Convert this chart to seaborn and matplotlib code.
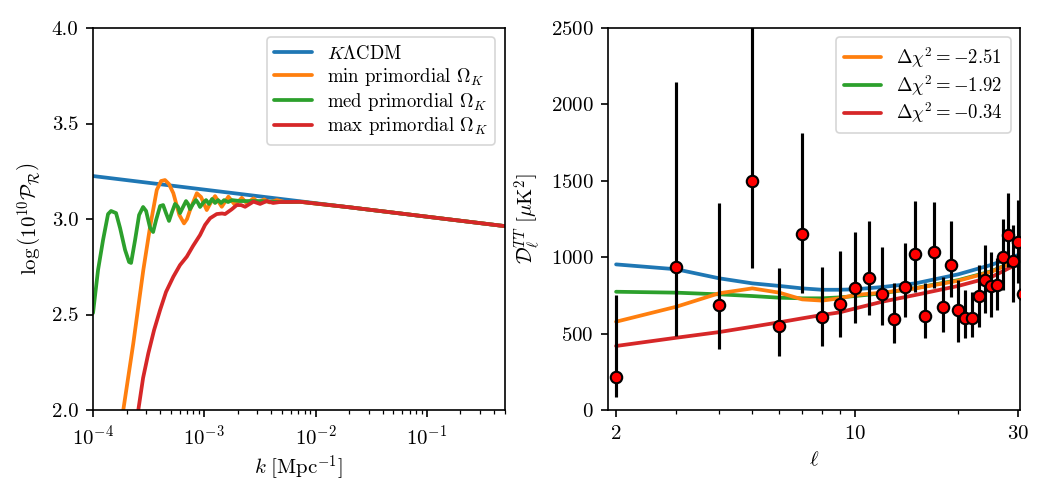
import numpy as np
import pandas as pd
import matplotlib
matplotlib.use('Agg')
import matplotlib.pyplot as plt
import matplotlib.ticker as mticker
import seaborn as sns

# ---- left panel: primordial spectrum, log10(k) -> log(10^10 P_R)
logk_lcdm = [-4.0, -3.0, -2.0, -1.0, -0.301]
lnp_lcdm = [3.225, 3.154, 3.083, 3.012, 2.963]

logk_min = [-3.781, -3.728, -3.638, -3.548, -3.487, -3.427, -3.388, -3.353, -3.317, -3.278,
            -3.254, -3.224, -3.182, -3.155, -3.128, -3.067, -3.029, -2.978, -2.939, -2.903,
            -2.843, -2.783, -2.723, -2.663, -2.618, -2.558, -2.513, -2.462, -2.415, -2.348,
            -2.273, -2.138, -1.689, -0.301]
lnp_min = [1.790, 2.000, 2.349, 2.733, 2.960, 3.152, 3.199, 3.204, 3.183, 3.135,
           3.084, 3.021, 2.977, 3.000, 3.047, 3.135, 3.115, 3.047, 3.089, 3.120,
           3.064, 3.117, 3.073, 3.111, 3.082, 3.108, 3.086, 3.103, 3.087, 3.099,
           3.089, 3.090, 3.061, 2.963]

logk_med = [-4.000, -3.955, -3.910, -3.865, -3.838, -3.793, -3.757, -3.712, -3.676, -3.658,
            -3.622, -3.586, -3.550, -3.523, -3.487, -3.460, -3.433, -3.397, -3.370, -3.344,
            -3.317, -3.290, -3.263, -3.236, -3.218, -3.191, -3.164, -3.146, -3.128, -3.101,
            -3.074, -3.056, -3.038, -3.011, -2.984, -2.957, -2.930, -2.903, -2.876, -2.849,
            -2.822, -2.786, -2.750, -2.678, -2.498, -2.318, -2.138, -1.689, -0.301]
lnp_med = [2.508, 2.733, 2.890, 3.026, 3.042, 3.031, 2.953, 2.838, 2.775, 2.770,
           2.890, 3.021, 3.063, 3.042, 2.953, 2.932, 2.995, 3.068, 3.073, 3.031,
           2.990, 3.037, 3.079, 3.063, 3.031, 3.063, 3.094, 3.079, 3.052, 3.079,
           3.099, 3.084, 3.063, 3.084, 3.099, 3.079, 3.105, 3.084, 3.099, 3.084,
           3.099, 3.089, 3.099, 3.094, 3.094, 3.089, 3.090, 3.061, 2.963]

logk_max = [-3.640, -3.593, -3.550, -3.503, -3.451, -3.397, -3.344, -3.278, -3.218, -3.157,
            -3.101, -3.038, -2.993, -2.948, -2.888, -2.840, -2.813, -2.753, -2.708, -2.669,
            -2.633, -2.558, -2.498, -2.438, -2.381, -2.318, -2.138, -1.689, -0.301]
lnp_max = [1.843, 2.000, 2.168, 2.297, 2.419, 2.524, 2.618, 2.698, 2.759, 2.803,
           2.859, 2.916, 2.969, 3.004, 3.026, 3.029, 3.026, 3.051, 3.073, 3.073,
           3.064, 3.091, 3.079, 3.094, 3.084, 3.089, 3.090, 3.061, 2.963]

# ---- right panel: low-ell TT spectrum
ell_th = [2, 3, 4, 5, 6, 7, 8, 9, 10, 12, 15, 20, 25, 30]
dl_lcdm = [953, 921, 862, 829, 812, 796, 787, 787, 790, 805, 829, 888, 950, 1015]
dl_min = [578, 676, 764, 796, 768, 724, 716, 731, 753, 768, 796, 846, 905, 982]
dl_med = [774, 768, 757, 746, 735, 731, 731, 737, 746, 764, 798, 850, 908, 985]
dl_max = [419, 473, 510, 545, 574, 600, 622, 639, 665, 709, 753, 812, 870, 960]

ell_obs = list(range(2, 32))
dl_obs = [218, 934, 687, 1499, 552, 1150, 611, 694, 800, 866, 761, 596, 805, 1019, 617,
          1032, 672, 949, 654, 600, 602, 744, 851, 811, 818, 999, 1145, 975, 1099, 760]
dl_hi = [753, 2145, 1353, 2900, 927, 1815, 934, 1043, 1167, 1237, 1069, 829, 1095, 1370, 829,
         1363, 868, 1239, 851, 785, 774, 949, 1080, 1036, 993, 1248, 1422, 1211, 1374, 960]
dl_lo = [87, 484, 397, 927, 353, 768, 419, 480, 567, 622, 556, 436, 607, 774, 469,
         796, 513, 741, 447, 469, 480, 545, 633, 611, 654, 785, 938, 709, 829, 570]

labels_left = [r'$K\Lambda\mathrm{CDM}$', r'min primordial $\Omega_K$',
               r'med primordial $\Omega_K$', r'max primordial $\Omega_K$']
labels_right = [r'$\Delta\chi^2=-2.51$', r'$\Delta\chi^2=-1.92$', r'$\Delta\chi^2=-0.34$']
colors = ['#1f77b4', '#ff7f0e', '#2ca02c', '#d62728']

sns.set_theme(style='ticks', context='paper')
plt.rcParams.update({
    'font.family': 'serif',
    'font.serif': ['cmr10'],
    'mathtext.fontset': 'cm',
    'axes.formatter.use_mathtext': True,
    'axes.unicode_minus': False,
    'font.size': 10,
    'axes.labelsize': 10,
    'xtick.labelsize': 10,
    'ytick.labelsize': 10,
    'legend.fontsize': 9,
    'legend.labelspacing': 0.15,
    'axes.edgecolor': 'black',
    'axes.linewidth': 0.8,
    'xtick.color': 'black',
    'ytick.color': 'black',
    'text.color': 'black',
    'axes.labelcolor': 'black',
    'xtick.major.width': 0.8,
    'ytick.major.width': 0.8,
    'xtick.minor.width': 0.6,
    'ytick.minor.width': 0.6,
    'xtick.major.size': 3.5,
    'ytick.major.size': 3.5,
    'xtick.minor.size': 2,
    'ytick.minor.size': 2,
})

LW = 1.8

fig, (ax1, ax2) = plt.subplots(1, 2, figsize=(7, 3.3), dpi=150)
fig.subplots_adjust(left=0.0886, right=0.9714, bottom=0.1717, top=0.9434, wspace=0.2526)

# left panel
left_series = [(logk_lcdm, lnp_lcdm), (logk_min, lnp_min), (logk_med, lnp_med), (logk_max, lnp_max)]
for (lk, val), c, lab in zip(left_series, colors, labels_left):
    df = pd.DataFrame({'k': 10 ** np.array(lk), 'v': val})
    sns.lineplot(data=df, x='k', y='v', ax=ax1, color=c, lw=LW, label=lab, sort=False)
ax1.set_xscale('log')
ax1.set_xlim(1e-4, 0.5)
ax1.set_ylim(2.0, 4.0)
ax1.set_yticks([2.0, 2.5, 3.0, 3.5, 4.0])
ax1.yaxis.set_major_formatter(mticker.FormatStrFormatter('%.1f'))
ax1.set_xlabel(r'$k\ [\mathrm{Mpc}^{-1}]$', labelpad=2)
ax1.set_ylabel(r'$\log\left(10^{10}\mathcal{P}_\mathcal{R}\right)$')
ax1.legend(loc='upper right')

# right panel
df_th = pd.DataFrame({'ell': ell_th, 'lcdm': dl_lcdm, 'min': dl_min, 'med': dl_med, 'max': dl_max})
sns.lineplot(data=df_th, x='ell', y='lcdm', ax=ax2, color=colors[0], lw=LW)
sns.lineplot(data=df_th, x='ell', y='med', ax=ax2, color=colors[2], lw=LW)
sns.lineplot(data=df_th, x='ell', y='min', ax=ax2, color=colors[1], lw=LW)
sns.lineplot(data=df_th, x='ell', y='max', ax=ax2, color=colors[3], lw=LW)
obs = np.array(dl_obs)
yerr = [obs - np.array(dl_lo), np.array(dl_hi) - obs]
ax2.errorbar(ell_obs, obs, yerr=yerr, fmt='o', color='black', ecolor='black', elinewidth=1.5,
             mfc='red', mec='black', mew=1, ms=5.5, zorder=5)
ax2.set_xscale('log')
ax2.set_xlim(1.9, 30.3)
ax2.set_ylim(0, 2500)
ax2.set_xticks([2, 10, 30])
ax2.xaxis.set_major_formatter(mticker.ScalarFormatter())
ax2.xaxis.set_minor_formatter(mticker.NullFormatter())
ax2.set_xlabel(r'$\ell$')
ax2.set_ylabel(r'$\mathcal{D}_\ell^{TT}\ [\mu\mathrm{K}^2]$')
handles = [plt.Line2D([], [], color=colors[i], lw=LW) for i in (1, 2, 3)]
ax2.legend(handles, labels_right, loc='upper right')

fig.savefig('out.png', dpi=150)
